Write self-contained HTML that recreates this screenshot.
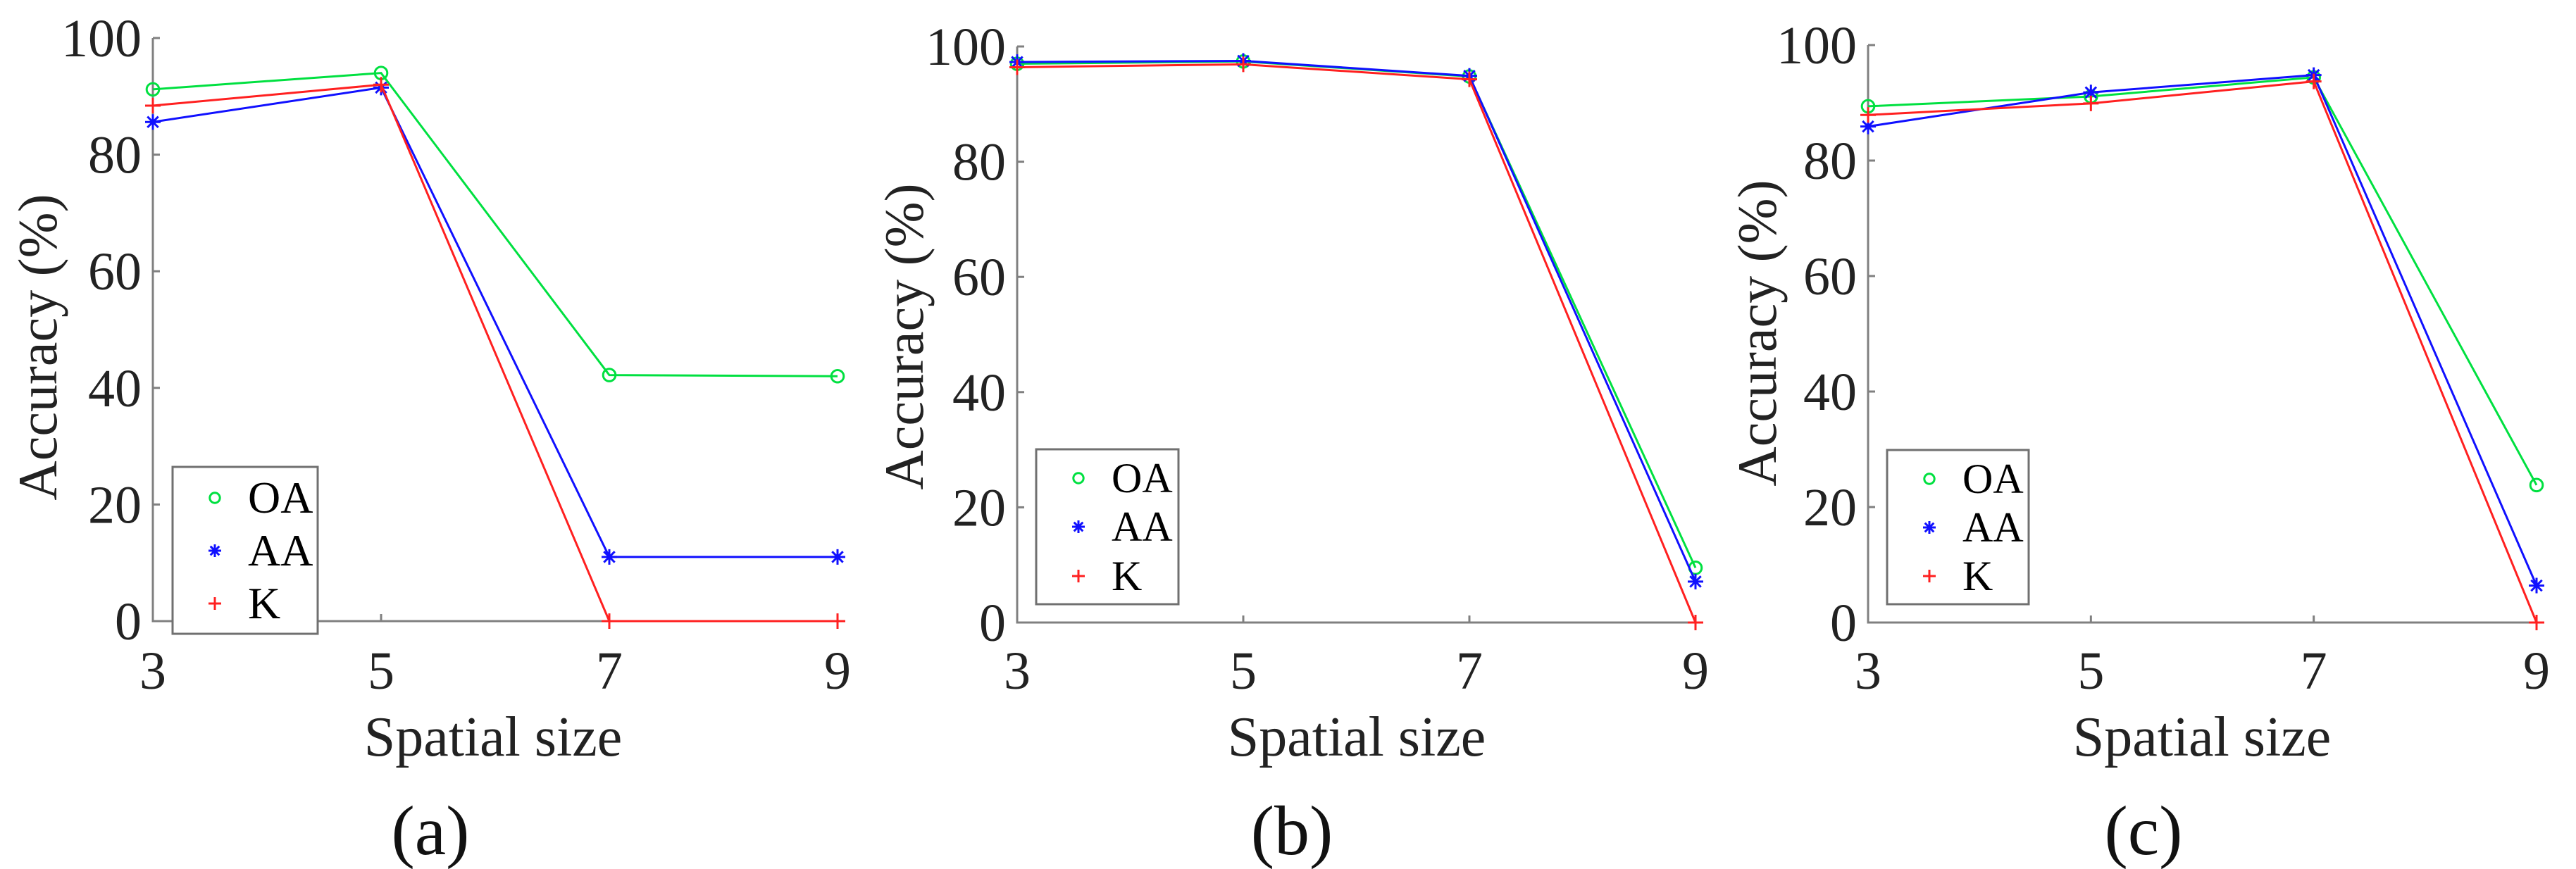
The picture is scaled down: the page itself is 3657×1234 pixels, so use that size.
<!DOCTYPE html>
<html><head><meta charset="utf-8">
<style>
html,body{margin:0;padding:0;background:#fff;}
svg{display:block;}
svg text{font-family:"Liberation Serif","DejaVu Serif",serif;}
</style></head>
<body>
<svg id="fig" width="3657" height="1234" viewBox="0 0 3657 1234" xmlns="http://www.w3.org/2000/svg" font-family="Liberation Serif, DejaVu Serif, serif"></svg>
<script>
const categories = [3, 5, 7, 9];
const yTicks = [0, 20, 40, 60, 80, 100];
const seriesNames = ["OA", "AA", "K"];
const aOA = [91.2, 94.0, 42.2, 42.0];
const aAA = [85.6, 91.5, 11.0, 11.0];
const aK  = [88.4, 92.0, 0, 0];
const bOA = [97.0, 97.4, 94.8, 9.5];
const bAA = [97.3, 97.5, 94.9, 7.1];
const bK  = [96.4, 96.9, 94.3, 0];
const cOA = [89.4, 91.1, 94.4, 23.8];
const cAA = [85.9, 91.8, 94.8, 6.4];
const cK  = [87.9, 89.9, 93.7, 0];
const panelLabels = ["(a)", "(b)", "(c)"];

const NS = "http://www.w3.org/2000/svg";
const svg = document.getElementById("fig");
const FF = "'Liberation Serif', 'DejaVu Serif', serif";
function mk(tag, attrs, parent) {
  const e = document.createElementNS(NS, tag);
  for (const k in attrs) e.setAttribute(k, attrs[k]);
  if (tag === "text") e.style.fontFamily = FF;
  (parent || svg).appendChild(e);
  return e;
}
const colors = ["#00e040", "#1010ff", "#ff2020"];
const panels = [
  {x0:217, x1:1189, y0:882, y1:54, data:[aOA,aAA,aK], leg:[245,663,206,237], legRows:[707,782,857], legFont:64, ylab:[54,493], xlab:700, plab:611},
  {x0:1444, x1:2407, y0:884, y1:66, data:[bOA,bAA,bK], leg:[1471,638,202,220], legRows:[679,748,818], legFont:60, ylab:[1284,478], xlab:1926, plab:1834},
  {x0:2652, x1:3601, y0:884, y1:64, data:[cOA,cAA,cK], leg:[2679,639,201,219], legRows:[680,749,818], legFont:60, ylab:[2495,473], xlab:3126, plab:3043}
];

function marker(g, kind, cx, cy, col, s) {
  if (kind === 0) {
    const m = mk("circle", {cx:cx, cy:cy, r:s*0.8, fill:"none", stroke:col, "stroke-width":3}, g);
    
    
  } else if (kind === 1) {
    const m = mk("path", {d:`M${cx-s} ${cy}H${cx+s}M${cx} ${cy-s}V${cy+s}M${cx-s*0.7} ${cy-s*0.7}L${cx+s*0.7} ${cy+s*0.7}M${cx-s*0.7} ${cy+s*0.7}L${cx+s*0.7} ${cy-s*0.7}`, stroke:col, "stroke-width":3, fill:"none"}, g);
    
    
  } else {
    const m = mk("path", {d:`M${cx-s} ${cy}H${cx+s}M${cx} ${cy-s}V${cy+s}`, stroke:col, "stroke-width":3, fill:"none"}, g);
    
    
  }
}

panels.forEach((p, pi) => {
  const g = mk("g", {});
  
  
  const xs = v => p.x0 + (v - categories[0]) / (categories[categories.length-1] - categories[0]) * (p.x1 - p.x0);
  const ys = v => p.y0 + (v - 0) / 100 * (p.y1 - p.y0);

  const ax = mk("path", {d:`M${p.x0} ${p.y1}V${p.y0}H${p.x1}`, stroke:"#808080", "stroke-width":3, fill:"none"}, g);
  
  

  yTicks.forEach(t => {
    const y = ys(t);
    const tk = mk("line", {x1:p.x0, x2:p.x0+10, y1:y, y2:y, stroke:"#808080", "stroke-width":3}, g);
    
    
    const tl = mk("text", {x:p.x0-16, y:y+26, "font-size":76, "text-anchor":"end", fill:"#222"}, g);
    tl.textContent = t;
    
    
  });
  categories.forEach(c => {
    const x = xs(c);
    const tk = mk("line", {x1:x, x2:x, y1:p.y0, y2:p.y0-10, stroke:"#808080", "stroke-width":3}, g);
    
    
    const tl = mk("text", {x:x, y:978, "font-size":76, "text-anchor":"middle", fill:"#222"}, g);
    tl.textContent = c;
    
    
  });

  p.data.forEach((vals, si) => {
    const pts = vals.map((v, i) => `${xs(categories[i])},${ys(v)}`).join(" ");
    const ln = mk("polyline", {points:pts, fill:"none", stroke:colors[si], "stroke-width":3}, g);
    
    
    vals.forEach((v, i) => marker(g, si, xs(categories[i]), ys(v), colors[si], 11));
  });

  const lb = mk("rect", {x:p.leg[0], y:p.leg[1], width:p.leg[2], height:p.leg[3], fill:"#fff", stroke:"#707070", "stroke-width":3}, g);
  
  
  seriesNames.forEach((n, si) => {
    const y = p.legRows[si];
    marker(g, si, p.leg[0] + 60, y, colors[si], 9);
    const t = mk("text", {x:p.leg[0] + 107, y:y + p.legFont*0.33, "font-size":p.legFont, fill:"#000"}, g);
    t.textContent = n;
    
    
  });

  const yl = mk("text", {x:0, y:0, "font-size":78, "text-anchor":"middle", fill:"#222", transform:`translate(${p.ylab[0]+26},${p.ylab[1]}) rotate(-90)`}, g);
  yl.textContent = "Accuracy (%)";
  
  
  const xl = mk("text", {x:p.xlab, y:1073, "font-size":80, "text-anchor":"middle", fill:"#222"}, g);
  xl.textContent = "Spatial size";
  
  
  const pl = mk("text", {x:p.plab, y:1213, "font-size":100, "text-anchor":"middle", fill:"#111"}, g);
  pl.textContent = panelLabels[pi];
  
  
});
</script>
</body></html>
